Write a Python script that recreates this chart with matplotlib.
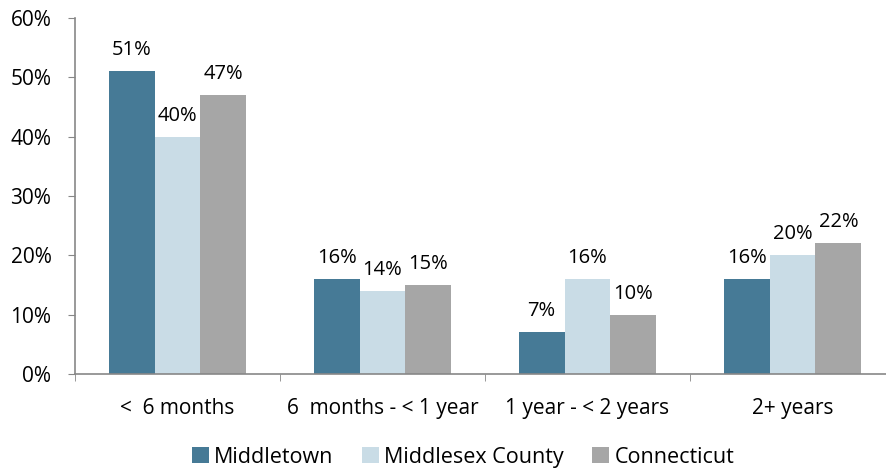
import matplotlib
matplotlib.use("Agg")
import matplotlib.pyplot as plt
import numpy as np

categories = ["<  6 months", "6  months - < 1 year", "1 year - < 2 years", "2+ years"]
series_names = ["Middletown", "Middlesex County", "Connecticut"]
middletown = [51, 16, 7, 16]
middlesex = [40, 14, 16, 20]
connecticut = [47, 15, 10, 22]
yticks = [0, 10, 20, 30, 40, 50, 60]

colors = ["#467A96", "#C9DCE6", "#A6A6A6"]

plt.rcParams['font.family'] = ['Open Sans', 'DejaVu Sans']

W, H = 887, 469
fig = plt.figure(figsize=(W/100, H/100), dpi=100)
left, right, top, bottom = 75, 895, 18, 374
ax = fig.add_axes([left/W, 1-bottom/H, (right-left)/W, (bottom-top)/H])

x = np.arange(len(categories))
bw = 0.224
data = [middletown, middlesex, connecticut]
for i, (vals, name, c) in enumerate(zip(data, series_names, colors)):
    pos = x + (i-1)*bw
    ax.bar(pos, vals, bw, color=c, label=name, zorder=2)
    for p, v in zip(pos, vals):
        ax.annotate(f"{v}%", (p, v), xytext=(0, 11), textcoords="offset pixels",
                    ha="center", va="bottom", fontsize=14.5, color="#000000")

ax.set_xlim(-0.5, len(categories)-0.5)
ax.set_ylim(0, 60)
ax.set_yticks(yticks)
ax.set_yticklabels([f"{t}%" for t in yticks], fontsize=15)
ax.set_xticks(x)
ax.set_xticklabels(categories, fontsize=15)
ax.set_xticks(np.arange(len(categories)+1)-0.5, minor=True)
ax.tick_params(axis='x', which='major', length=0, pad=17)
ax.tick_params(axis='x', which='minor', length=5, color="#878787", direction='out')
ax.tick_params(axis='y', length=5, color="#878787", direction='out', pad=12)
for s in ["top", "right"]:
    ax.spines[s].set_visible(False)
for s in ["left", "bottom"]:
    ax.spines[s].set_color("#878787")
    ax.spines[s].set_linewidth(1.2)

leg = fig.legend(loc="center", bbox_to_anchor=(463/W, 1-457/H), ncol=3, frameon=False,
                 fontsize=15.5, handlelength=0.8, handleheight=0.8, handletextpad=0.25,
                 columnspacing=1.3)

fig.savefig("out.png", dpi=100)
